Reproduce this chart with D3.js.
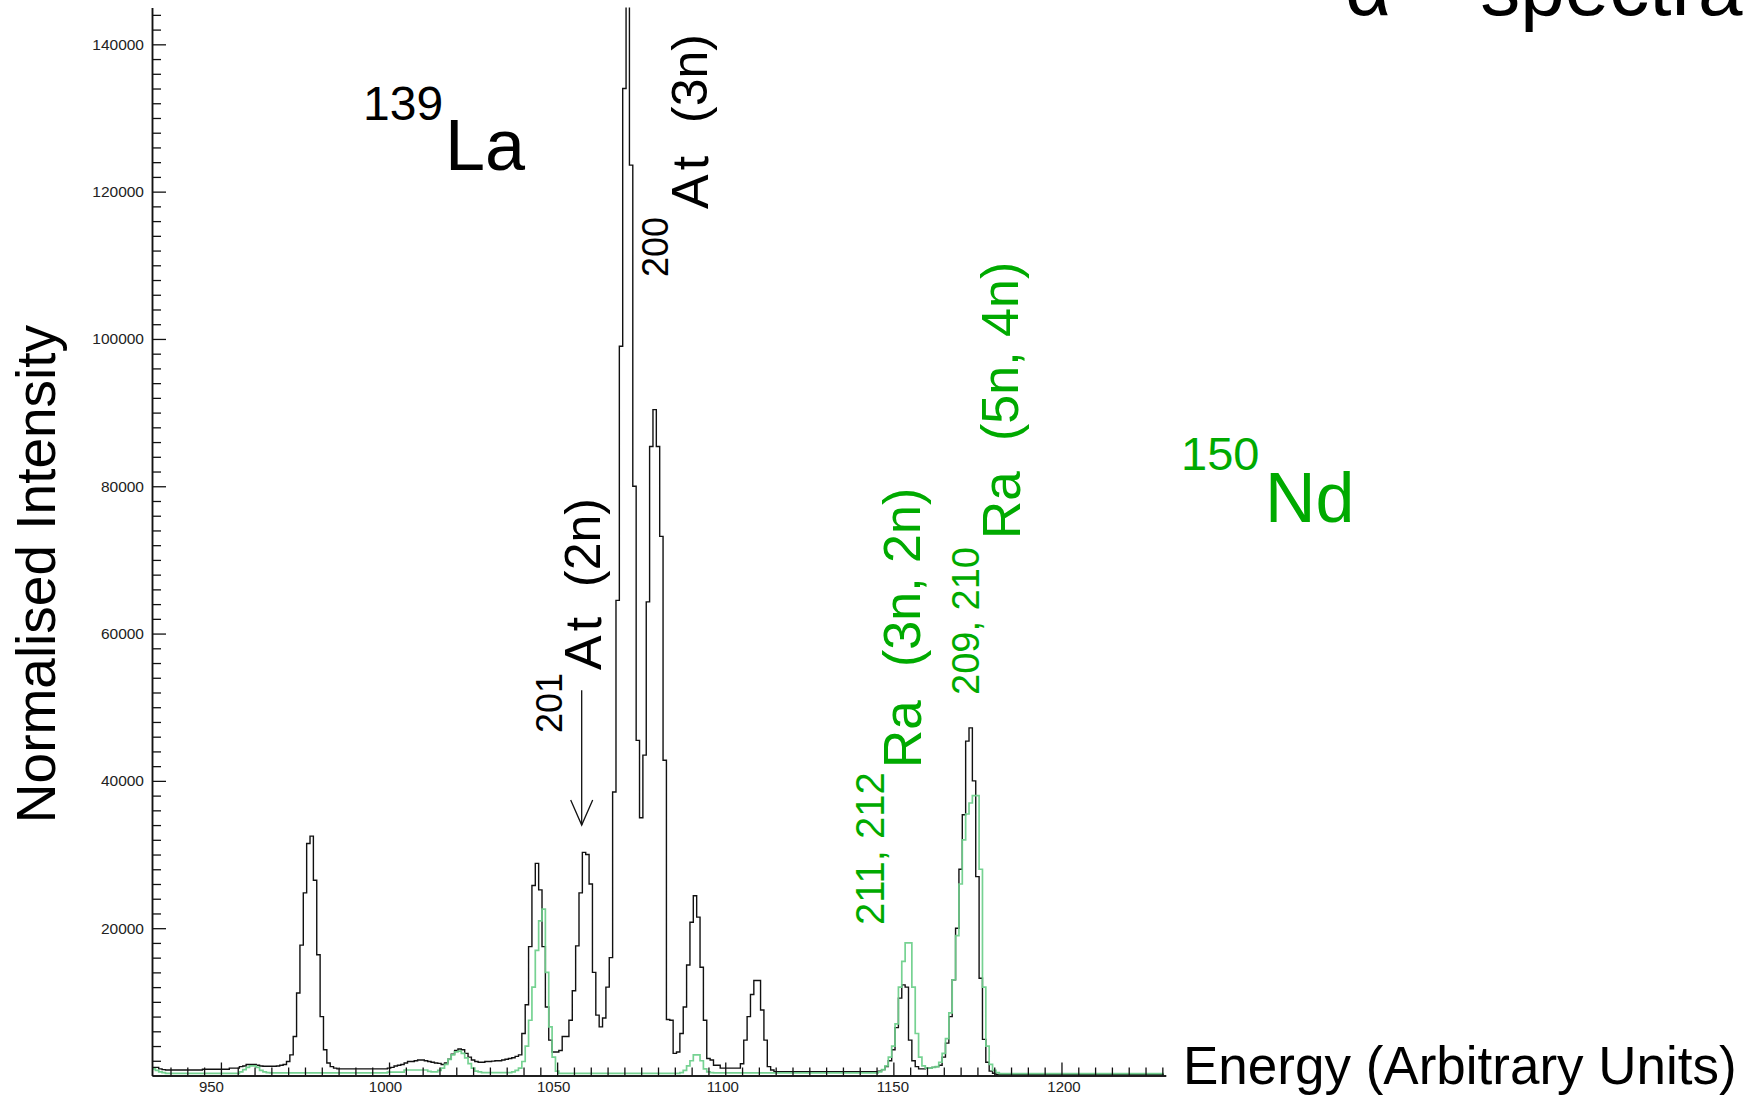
<!DOCTYPE html>
<html><head><meta charset="utf-8">
<script src="https://cdn.jsdelivr.net/npm/d3@7"></script>
<style>
html,body{margin:0;padding:0;background:#fff;}
svg{display:block;}
text{font-family:"Liberation Sans",Arial,Helvetica,sans-serif;}
</style></head><body>
<svg id="chart" width="1743" height="1095"></svg>
<script>
// ---- data (one bin per energy unit, first bin centred on energyStart) ----
const energyStart = 930;
const blackCounts = [
 1100,1100,900,800,750,750,750,750,750,750,
 750,750,750,750,750,850,850,850,850,850,
 850,850,850,1000,1000,1000,1200,1300,1500,1500,
 1500,1400,1300,1250,1250,1250,1250,1300,1400,1500,
 1900,2800,5300,11200,17700,24800,31500,32500,26500,16400,
 8000,3500,1700,1200,1000,900,900,900,900,900,
 900,900,900,900,900,900,900,900,900,900,
 1000,1100,1300,1400,1500,1700,1900,1900,2000,2100,
 2100,2000,1900,1800,1700,1650,1500,1700,2200,2900,
 3400,3600,3500,3000,2500,2100,1900,1800,1800,1900,
 1900,1950,2000,2000,2100,2200,2300,2400,2600,2800,
 5700,9600,17500,25800,28800,25200,17500,9300,4800,3200,
 3200,3400,5300,5300,7500,11500,17600,24800,30300,30000,
 26000,14000,8200,6600,7800,12000,16000,38500,64500,99000,
 134000,152000,123600,80000,45500,35000,43500,64300,85400,90400,
 85400,73200,42800,7600,7500,3000,3200,5700,9300,15000,
 20800,24400,21500,14700,7500,2300,2100,1400,1400,1000,
 1000,1000,1000,1000,1000,1600,4800,8000,11000,12900,
 12900,8900,4800,1200,750,530,500,500,500,500,
 500,500,500,500,500,500,500,500,500,500,
 500,500,500,500,500,500,500,500,500,500,
 500,500,500,500,500,500,600,800,1200,2000,
 3500,6500,10500,12300,12000,4800,2000,1200,900,900,
 1000,1000,1100,1200,1400,2500,4400,8000,13000,20000,
 28000,35400,45400,47200,40000,27000,13200,4900,1800,600,
 300,150,150,150,150,150,150,150,150,150,
 150,150,150,150,150,150,150,150,150,150,
 150,150,150,150,150,150,150,150,150,150,
 150,150,150,150,150,150,150,150,150,150,
 150,150,150,150,150,150,150,150,150,150,
 150
];
const greenCounts = [
 900,700,500,400,300,300,300,300,300,300,
 300,300,300,300,300,300,300,300,300,300,
 300,300,300,300,300,300,500,800,1100,1300,
 1300,1100,700,500,400,350,350,350,350,350,
 350,350,350,350,350,350,350,350,350,350,
 350,350,350,350,350,350,350,350,350,350,
 350,350,350,350,350,350,350,350,350,350,
 450,450,450,450,450,750,750,750,750,750,
 750,750,550,500,500,700,1000,1500,2200,2800,
 3200,3300,3000,2400,1600,1000,600,500,400,400,
 400,400,400,400,400,400,400,500,700,1000,
 1900,4000,7500,12000,17000,21000,22600,14000,6600,2500,
 600,300,300,300,300,300,300,300,300,300,
 300,300,300,300,300,300,300,300,300,300,
 300,300,300,300,300,300,300,300,300,300,
 300,300,300,300,300,300,300,400,700,1300,
 2000,2800,2800,2000,900,500,400,350,350,350,
 350,350,350,350,350,350,350,350,350,350,
 350,350,350,350,350,350,350,350,350,350,
 350,350,350,350,350,350,350,350,350,350,
 350,350,350,350,350,350,350,350,350,350,
 350,350,350,350,350,350,500,800,1300,2500,
 4000,7000,12000,15500,18000,18000,12000,5700,2500,1300,
 1000,1000,1100,1200,1800,3000,5000,8500,13000,19000,
 26000,32000,35500,37000,38000,38000,28000,12000,4000,1500,
 700,400,250,250,250,250,250,250,250,250,
 250,250,250,250,250,250,250,250,250,250,
 250,250,250,250,250,250,250,250,250,250,
 250,250,250,250,250,250,250,250,250,250,
 250,250,250,250,250,250,250,250,250,250,
 250
];
const xMajorTicks = [950, 1000, 1050, 1100, 1150, 1200];
const yMajorTicks = [20000, 40000, 60000, 80000, 100000, 120000, 140000];
const xAxisTitle = "Energy (Arbitrary Units)";
const yAxisTitle = "Normalised Intensity";

// ---- scales ----
const svg = d3.select("#chart");
svg.append("rect").attr("width",1743).attr("height",1095).attr("fill","#fff");
const x = d3.scaleLinear().domain([929.5, 1231]).range([152, 1165.7]);
const y = d3.scaleLinear().domain([0, 145000]).range([1075.5, 7.5]);

svg.append("defs").append("clipPath").attr("id","plotclip")
  .append("rect").attr("x", x(929.5)).attr("y", y(145000))
  .attr("width", x(1231)-x(929.5)).attr("height", y(0)-y(145000));

const toPts = counts => {
  const pts = counts.map((v,i) => [energyStart + i - 0.5, v]);
  pts.push([energyStart + counts.length - 0.5, counts[counts.length-1]]);
  return pts;
};
const line = d3.line().x(d => x(d[0])).y(d => y(d[1])).curve(d3.curveStepAfter);

const plot = svg.append("g").attr("clip-path","url(#plotclip)");
plot.append("path").datum(toPts(blackCounts)).attr("d", line)
  .attr("fill","none").attr("stroke","#111").attr("stroke-width",1.4);
plot.append("path").datum(toPts(greenCounts)).attr("d", line)
  .attr("fill","none").attr("stroke","#6fd08c").attr("stroke-width",1.7).attr("stroke-opacity",0.95);

// ---- axes ----
const minorX = d3.range(935, 1231, 5).filter(v => v % 50 !== 0);
const minorY = d3.range(2000, 145001, 2000).filter(v => v % 20000 !== 0);

function styleAxis(g){
  g.selectAll(".domain").attr("stroke","#111").attr("stroke-width",1.5);
  g.selectAll(".tick line").attr("stroke","#111").attr("stroke-width",1.3);
  g.selectAll(".tick text").attr("fill","#222").style("font-size","15px")
    .style("font-family",'"Liberation Sans",Arial,sans-serif');
}
const gxMinor = svg.append("g").attr("transform",`translate(0,${y(0)})`)
  .call(d3.axisBottom(x).tickValues(minorX).tickSize(-8).tickSizeOuter(0).tickFormat(""));
styleAxis(gxMinor);
const gx = svg.append("g").attr("transform",`translate(0,${y(0)})`)
  .call(d3.axisBottom(x).tickValues(xMajorTicks).tickSize(-13).tickSizeOuter(0).tickPadding(6).tickFormat(d3.format("d")));
styleAxis(gx);
const xLabelNudge = [-10, -4, -4, -3, -1, 2];
gx.selectAll(".tick text").attr("dx",(d,i) => xLabelNudge[i]);

const gyMinor = svg.append("g").attr("transform",`translate(${x(929.5)},0)`)
  .call(d3.axisLeft(y).tickValues(minorY).tickSize(-9).tickSizeOuter(0).tickFormat(""));
styleAxis(gyMinor);
const gy = svg.append("g").attr("transform",`translate(${x(929.5)},0)`)
  .call(d3.axisLeft(y).tickValues(yMajorTicks).tickSize(-14).tickSizeOuter(0).tickPadding(8).tickFormat(d3.format("d")));
styleAxis(gy);
gy.selectAll(".tick text").style("font-size","15.5px");

// ---- titles ----
svg.append("text").attr("transform","translate(55,574) rotate(-90)")
  .attr("text-anchor","middle").style("font-size","55px").attr("fill","#000").text(yAxisTitle);
svg.append("text").attr("x",1183).attr("y",1084)
  .style("font-size","53px").attr("fill","#000").text(xAxisTitle);
svg.append("text").attr("x",1345).attr("y",15)
  .style("font-size","80px").attr("fill","#000").text("α – spectra");

// ---- annotations ----
const ann = svg.append("g");
function t(xp, yp, size, color, str, rot, ls){
  const el = ann.append("text").attr("transform", rot ? `translate(${xp},${yp}) rotate(-90)` : `translate(${xp},${yp})`)
    .style("font-size", size+"px").attr("fill", color).text(str);
  if (ls) el.style("letter-spacing", ls+"px");
}
t(363,120,48,"#000","139"); t(445,170,72,"#000","La");
t(1181,470,47,"#00aa00","150"); t(1265,522,70,"#00aa00","Nd");

t(562,733,36,"#000","201",true); t(601,670,52,"#000","At",true,4); t(600,587,50,"#000","(2n)",true);
t(668,277,36,"#000","200",true); t(708,209,52,"#000","At",true,4); t(707,123,50,"#000","(3n)",true);

t(884,925,40,"#00aa00","211, 212",true); t(921,768,53,"#00aa00","Ra",true); t(920,667,52,"#00aa00","(3n, 2n)",true);
t(979,695,38,"#00aa00","209, 210",true); t(1020,539,53,"#00aa00","Ra",true); t(1018,441,52,"#00aa00","(5n, 4n)",true);

// arrow pointing at the 201At peak
const arrowE = 1057.3, arrowTop = 52300, arrowTip = 34000;
ann.append("line").attr("x1",x(arrowE)).attr("x2",x(arrowE)).attr("y1",y(arrowTop)).attr("y2",y(arrowTip))
  .attr("stroke","#111").attr("stroke-width",1.3);
ann.append("path").attr("d",`M${x(arrowE)-11},${y(arrowTip)-25} L${x(arrowE)},${y(arrowTip)} L${x(arrowE)+11},${y(arrowTip)-25}`)
  .attr("fill","none").attr("stroke","#111").attr("stroke-width",1.3);
</script>
</body></html>
